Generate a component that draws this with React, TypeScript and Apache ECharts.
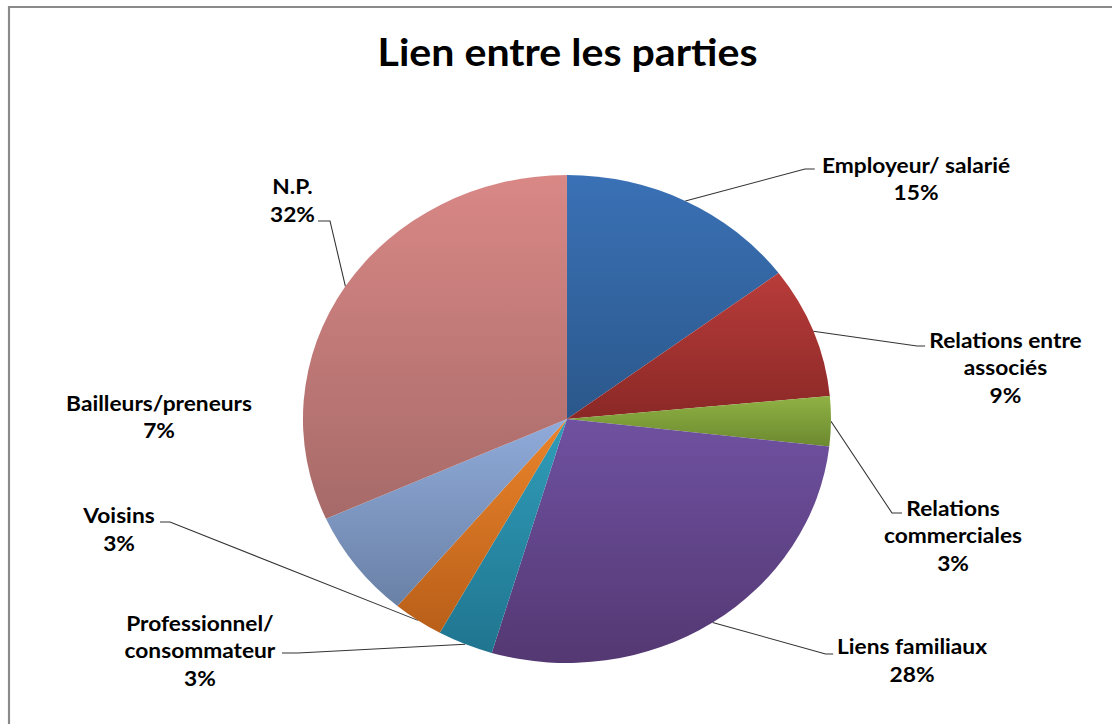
import React, { useEffect, useRef } from "react";
import * as echarts from "echarts";

// ---- data ----
const categories = [
  "Employeur/ salarié",
  "Relations entre\nassociés",
  "Relations\ncommerciales",
  "Liens familiaux",
  "Professionnel/\nconsommateur",
  "Voisins",
  "Bailleurs/preneurs",
  "N.P.",
];
const values = [14.8, 8.7, 3.3, 27.8, 3.4, 3.1, 7.2, 31.7];
const titleText = "Lien entre les parties";

// ---- styles ----
const gradients: [string, string][] = [
  ["#3a71b6", "#2b588b"],
  ["#b83c3a", "#8a2826"],
  ["#8fb244", "#6c892f"],
  ["#6f51a1", "#533872"],
  ["#309db9", "#207590"],
  ["#ea842b", "#b95f19"],
  ["#90abda", "#6a81a6"],
  ["#d98886", "#a66a68"],
];

// layout (unscaled chart coordinates): label block centre and leader anchor points
const SX = 1.082;
const labelPos: { x: number; y: number; line?: [number, number][] }[] = [
  { x: 846.6, y: 178.5, line: [[744, 169], [753, 169]] },
  { x: 929.3, y: 367, line: [[847.5, 346], [855, 346]] },
  { x: 880.8, y: 535, line: [[824.4, 513], [833.6, 513]] },
  { x: 842.9, y: 660, line: [[763, 654], [770, 654]] },
  { x: 184.8, y: 650, line: [[275.4, 653], [260.6, 653]] },
  { x: 110, y: 529, line: [[157.1, 522], [147.9, 522]] },
  { x: 147, y: 416.5 },
  { x: 270.3, y: 200, line: [[305, 221], [293.9, 221]] },
];

export default function App() {
  const ref = useRef<HTMLDivElement>(null);
  useEffect(() => {
    if (!ref.current) return;
    const chart = echarts.init(ref.current, null, { renderer: "svg" });
    const data = values.map((v, i) => ({
      value: v,
      name: categories[i],
      itemStyle: {
        color: new echarts.graphic.LinearGradient(0, 0, 0, 1, [
          { offset: 0, color: gradients[i][0] },
          { offset: 1, color: gradients[i][1] },
        ]),
      },
      labelLine: { show: !!labelPos[i].line },
    }));
    chart.setOption({
      animation: false,
      backgroundColor: "#ffffff",
      graphic: [
        {
          type: "rect",
          shape: { x: 9 / SX, y: 7, width: 2000, height: 2000 },
          style: { fill: "none", stroke: "#8a8a8a", lineWidth: 2 },
          silent: true,
        },
        {
          type: "text",
          x: 524.5,
          y: 51,
          style: {
            text: titleText,
            fontFamily: "Lato",
            fontWeight: "bold",
            fontSize: 38,
            fill: "#000000",
            textAlign: "center",
            textVerticalAlign: "middle",
          },
        },
      ],
      series: [
        {
          type: "pie",
          center: [524, 419],
          radius: 244,
          startAngle: 90,
          clockwise: true,
          percentPrecision: 0,
          avoidLabelOverlap: false,
          itemStyle: { borderWidth: 0 },
          label: {
            show: true,
            position: "outside",
            formatter: "{b}\n{d}%",
            fontFamily: "Lato",
            fontWeight: "bold",
            fontSize: 21,
            lineHeight: 27.5,
            color: "#000000",
            align: "center",
          },
          labelLine: {
            show: true,
            length: 10,
            length2: 10,
            lineStyle: { color: "#333333", width: 1 },
          },
          labelLayout: (params: any) => {
            const L = labelPos[params.dataIndex];
            const res: any = { x: L.x, y: L.y, align: "center", verticalAlign: "middle" };
            if (L.line && params.labelLinePoints && params.labelLinePoints[0]) {
              res.labelLinePoints = [params.labelLinePoints[0], L.line[0], L.line[1]];
            }
            return res;
          },
          emphasis: { disabled: true },
          data,
        },
      ],
    });
    return () => chart.dispose();
  }, []);
  return (
    <div
      ref={ref}
      style={{
        position: "absolute",
        left: 0,
        top: 0,
        width: 1028,
        height: 724,
        transform: `scaleX(${SX})`,
        transformOrigin: "0 0",
      }}
    />
  );
}
